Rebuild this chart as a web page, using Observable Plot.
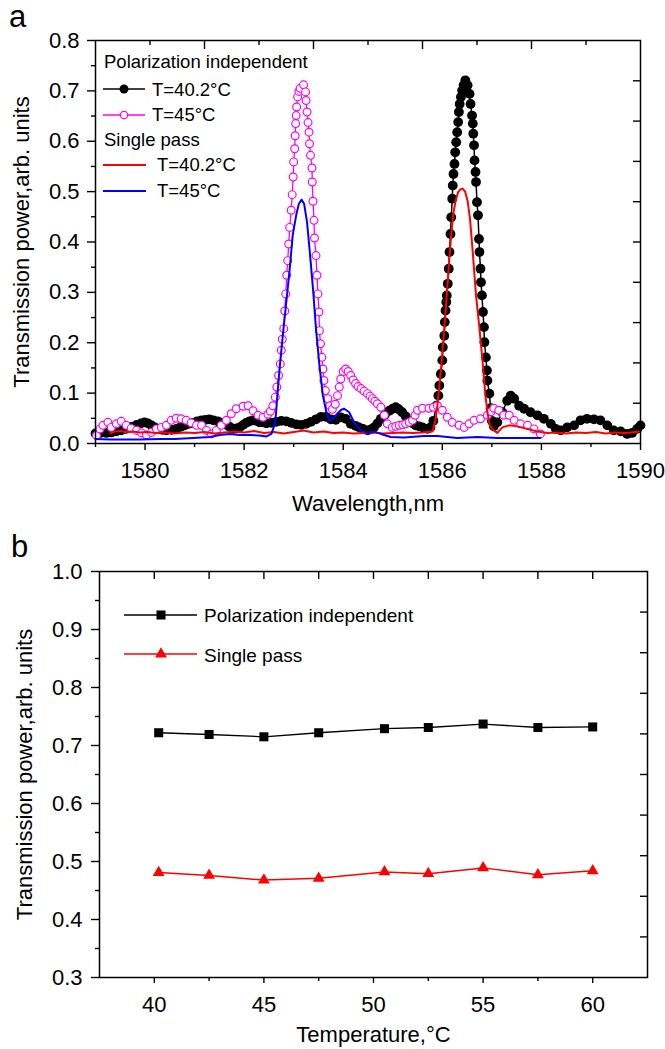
<!DOCTYPE html>
<html><head><meta charset="utf-8">
<script src="https://cdn.jsdelivr.net/npm/d3@7"></script>
<script src="https://cdn.jsdelivr.net/npm/@observablehq/plot@0.6"></script>
<style>
body{margin:0;background:#fff;}
#wrap{position:relative;width:665px;height:1049px;overflow:hidden;}
.panel{position:absolute;left:0;}
#overlay{position:absolute;left:0;top:0;pointer-events:none;}
</style></head><body><div id="wrap"><div id="pa" class="panel" style="top:0"></div><div id="pb" class="panel" style="top:530px"></div></div>
<script>
// ---------- Panel a data : [wavelength nm, power] ----------
const piT402 = [[1579.00,0.020],[1579.10,0.021],[1579.22,0.021],[1579.32,0.022],[1579.42,0.024],[1579.52,0.026],[1579.62,0.029],[1579.72,0.033],[1579.83,0.037],[1579.92,0.040],[1579.99,0.042],[1580.06,0.040],[1580.13,0.036],[1580.20,0.032],[1580.26,0.029],[1580.35,0.027],[1580.43,0.026],[1580.53,0.027],[1580.63,0.029],[1580.72,0.033],[1580.80,0.036],[1580.88,0.039],[1580.97,0.041],[1581.05,0.044],[1581.14,0.046],[1581.22,0.047],[1581.30,0.048],[1581.38,0.046],[1581.47,0.044],[1581.55,0.041],[1581.64,0.037],[1581.71,0.033],[1581.78,0.029],[1581.85,0.030],[1581.91,0.032],[1581.98,0.037],[1582.04,0.041],[1582.11,0.044],[1582.18,0.046],[1582.25,0.045],[1582.31,0.042],[1582.38,0.042],[1582.45,0.040],[1582.55,0.041],[1582.65,0.043],[1582.75,0.045],[1582.85,0.044],[1582.95,0.041],[1583.05,0.038],[1583.15,0.037],[1583.25,0.039],[1583.35,0.043],[1583.45,0.048],[1583.55,0.053],[1583.65,0.053],[1583.75,0.048],[1583.85,0.047],[1583.95,0.052],[1584.05,0.049],[1584.15,0.039],[1584.25,0.035],[1584.32,0.032],[1584.40,0.029],[1584.49,0.026],[1584.56,0.028],[1584.62,0.032],[1584.69,0.040],[1584.76,0.049],[1584.84,0.057],[1584.93,0.065],[1585.00,0.069],[1585.06,0.072],[1585.12,0.068],[1585.19,0.062],[1585.26,0.054],[1585.33,0.046],[1585.40,0.040],[1585.46,0.036],[1585.53,0.034],[1585.60,0.032],[1585.70,0.029],[1585.76,0.032],[1585.82,0.045],[1585.88,0.075],[1585.92,0.095],[1585.94,0.115],[1585.97,0.138],[1586.00,0.165],[1586.01,0.191],[1586.04,0.214],[1586.05,0.241],[1586.065,0.264],[1586.08,0.281],[1586.09,0.294],[1586.11,0.317],[1586.13,0.347],[1586.145,0.380],[1586.165,0.416],[1586.18,0.449],[1586.20,0.486],[1586.21,0.512],[1586.225,0.535],[1586.245,0.555],[1586.26,0.578],[1586.28,0.598],[1586.30,0.618],[1586.32,0.638],[1586.335,0.658],[1586.35,0.674],[1586.375,0.688],[1586.40,0.701],[1586.43,0.711],[1586.465,0.721],[1586.51,0.711],[1586.55,0.694],[1586.57,0.674],[1586.60,0.651],[1586.615,0.635],[1586.625,0.615],[1586.64,0.592],[1586.65,0.562],[1586.67,0.539],[1586.68,0.519],[1586.70,0.479],[1586.72,0.453],[1586.74,0.406],[1586.75,0.380],[1586.77,0.347],[1586.78,0.320],[1586.80,0.294],[1586.82,0.261],[1586.84,0.231],[1586.85,0.201],[1586.88,0.171],[1586.90,0.145],[1586.91,0.125],[1586.95,0.099],[1586.975,0.070],[1587.00,0.045],[1587.04,0.034],[1587.11,0.042],[1587.21,0.062],[1587.31,0.085],[1587.38,0.095],[1587.45,0.089],[1587.55,0.075],[1587.65,0.069],[1587.78,0.062],[1587.92,0.056],[1588.05,0.049],[1588.19,0.039],[1588.29,0.029],[1588.39,0.026],[1588.52,0.032],[1588.66,0.036],[1588.79,0.046],[1588.92,0.049],[1589.06,0.048],[1589.19,0.046],[1589.33,0.036],[1589.46,0.026],[1589.60,0.024],[1589.73,0.019],[1589.83,0.021],[1589.93,0.029],[1590.00,0.036]];

const piT45 = [[1579.02,0.016],[1579.09,0.029],[1579.15,0.036],[1579.25,0.042],[1579.32,0.032],[1579.42,0.039],[1579.52,0.044],[1579.62,0.036],[1579.72,0.030],[1579.83,0.026],[1579.93,0.021],[1580.03,0.017],[1580.13,0.022],[1580.23,0.029],[1580.33,0.032],[1580.43,0.036],[1580.53,0.046],[1580.63,0.050],[1580.73,0.049],[1580.83,0.046],[1580.93,0.041],[1581.04,0.036],[1581.14,0.036],[1581.24,0.026],[1581.34,0.019],[1581.44,0.026],[1581.54,0.036],[1581.64,0.046],[1581.74,0.059],[1581.84,0.069],[1581.98,0.074],[1582.08,0.075],[1582.18,0.065],[1582.28,0.056],[1582.38,0.052],[1582.48,0.058],[1582.53,0.064],[1582.58,0.075],[1582.63,0.092],[1582.66,0.112],[1582.695,0.135],[1582.73,0.158],[1582.75,0.185],[1582.77,0.207],[1582.80,0.228],[1582.82,0.263],[1582.84,0.297],[1582.86,0.334],[1582.88,0.363],[1582.90,0.396],[1582.92,0.429],[1582.95,0.463],[1582.97,0.494],[1582.99,0.529],[1583.00,0.559],[1583.02,0.585],[1583.03,0.611],[1583.04,0.635],[1583.05,0.651],[1583.06,0.668],[1583.08,0.688],[1583.105,0.699],[1583.13,0.705],[1583.20,0.712],[1583.24,0.698],[1583.25,0.681],[1583.27,0.658],[1583.29,0.637],[1583.31,0.618],[1583.32,0.595],[1583.34,0.572],[1583.37,0.547],[1583.375,0.519],[1583.39,0.481],[1583.41,0.443],[1583.42,0.408],[1583.45,0.373],[1583.47,0.334],[1583.49,0.297],[1583.51,0.261],[1583.52,0.224],[1583.54,0.198],[1583.57,0.171],[1583.59,0.148],[1583.61,0.125],[1583.64,0.105],[1583.69,0.089],[1583.73,0.075],[1583.78,0.068],[1583.84,0.078],[1583.885,0.095],[1583.92,0.112],[1583.95,0.128],[1584.00,0.143],[1584.05,0.148],[1584.10,0.143],[1584.15,0.135],[1584.20,0.126],[1584.25,0.119],[1584.30,0.113],[1584.36,0.109],[1584.42,0.104],[1584.49,0.099],[1584.54,0.094],[1584.59,0.089],[1584.64,0.084],[1584.69,0.079],[1584.76,0.072],[1584.83,0.056],[1584.89,0.039],[1584.99,0.032],[1585.06,0.034],[1585.13,0.036],[1585.20,0.037],[1585.26,0.039],[1585.33,0.042],[1585.40,0.046],[1585.45,0.056],[1585.50,0.066],[1585.60,0.070],[1585.73,0.070],[1585.82,0.072],[1585.90,0.075],[1586.00,0.066],[1586.10,0.052],[1586.20,0.042],[1586.34,0.036],[1586.44,0.032],[1586.54,0.039],[1586.64,0.046],[1586.77,0.049],[1586.91,0.056],[1586.98,0.063],[1587.04,0.070],[1587.14,0.066],[1587.24,0.056],[1587.35,0.056],[1587.45,0.046],[1587.58,0.039],[1587.72,0.036],[1587.85,0.029],[1587.98,0.019]];

const spT402 = [[1579.30,0.020],[1579.40,0.024],[1579.50,0.025],[1579.60,0.023],[1579.75,0.024],[1579.90,0.022],[1580.05,0.023],[1580.20,0.021],[1580.40,0.022],[1580.60,0.020],[1580.80,0.022],[1581.00,0.021],[1581.20,0.023],[1581.40,0.020],[1581.60,0.022],[1581.80,0.024],[1582.00,0.022],[1582.20,0.025],[1582.40,0.021],[1582.60,0.023],[1582.80,0.020],[1583.00,0.023],[1583.20,0.026],[1583.40,0.022],[1583.60,0.024],[1583.80,0.021],[1584.00,0.022],[1584.20,0.020],[1584.40,0.021],[1584.60,0.022],[1584.80,0.020],[1585.00,0.021],[1585.20,0.022],[1585.40,0.021],[1585.60,0.022],[1585.80,0.024],[1585.86,0.045],[1585.90,0.075],[1585.94,0.115],[1585.98,0.155],[1586.02,0.205],[1586.06,0.255],[1586.10,0.310],[1586.14,0.365],[1586.18,0.415],[1586.22,0.455],[1586.27,0.483],[1586.32,0.499],[1586.37,0.505],[1586.41,0.506],[1586.46,0.500],[1586.51,0.482],[1586.56,0.445],[1586.61,0.385],[1586.68,0.294],[1586.75,0.228],[1586.82,0.155],[1586.87,0.095],[1586.92,0.056],[1586.96,0.035],[1587.04,0.026],[1587.11,0.021],[1587.21,0.032],[1587.35,0.036],[1587.51,0.034],[1587.71,0.029],[1587.92,0.024],[1588.12,0.021],[1588.30,0.022],[1588.50,0.020],[1588.70,0.022],[1588.90,0.021],[1589.10,0.023],[1589.30,0.020],[1589.50,0.022],[1589.70,0.021],[1589.90,0.023],[1590.00,0.024]];

const spT45 = [[1579.00,0.009],[1579.30,0.008],[1579.60,0.008],[1579.90,0.008],[1580.30,0.009],[1580.60,0.009],[1580.97,0.011],[1581.30,0.013],[1581.51,0.017],[1581.71,0.019],[1581.91,0.017],[1582.11,0.017],[1582.31,0.016],[1582.45,0.014],[1582.55,0.019],[1582.61,0.036],[1582.64,0.056],[1582.67,0.095],[1582.715,0.148],[1582.78,0.214],[1582.85,0.280],[1582.92,0.347],[1582.98,0.413],[1583.05,0.453],[1583.105,0.476],[1583.16,0.484],[1583.21,0.476],[1583.27,0.439],[1583.32,0.386],[1583.39,0.307],[1583.45,0.228],[1583.52,0.155],[1583.59,0.095],[1583.66,0.062],[1583.72,0.045],[1583.80,0.050],[1583.88,0.059],[1583.96,0.067],[1584.02,0.069],[1584.12,0.062],[1584.22,0.042],[1584.35,0.026],[1584.49,0.021],[1584.62,0.024],[1584.76,0.019],[1584.96,0.013],[1585.23,0.012],[1585.63,0.015],[1585.90,0.015],[1586.30,0.011],[1586.71,0.013],[1587.11,0.011],[1587.51,0.011],[1587.98,0.011]];

// ---------- Panel b data ----------
const temps = [40.2, 42.5, 45, 47.5, 50.5, 52.5, 55, 57.5, 60];
const piPower = [0.722, 0.719, 0.715, 0.722, 0.729, 0.731, 0.737, 0.731, 0.732];
const spPower = [0.481, 0.476, 0.468, 0.471, 0.482, 0.479, 0.489, 0.477, 0.484];

// ---------- Ticks & texts ----------
const xTicksA = [1580, 1582, 1584, 1586, 1588, 1590];
const xMinorA = [1579, 1581, 1583, 1585, 1587, 1589];
const yTicksA = [0, 0.1, 0.2, 0.3, 0.4, 0.5, 0.6, 0.7, 0.8];
const yMinorA = [0.05, 0.15, 0.25, 0.35, 0.45, 0.55, 0.65, 0.75];
const topLongA = [1581.2, 1583.4, 1585.6, 1587.8];
const topShortA = [1580.1, 1582.3, 1584.5, 1586.7, 1588.9];
const rightA = [0.08, 0.16, 0.24, 0.32, 0.40, 0.48, 0.56, 0.64, 0.72];

const xTicksB = [40, 45, 50, 55, 60];
const xMinorB = [42.5, 47.5, 52.5, 57.5];
const yTicksB = [0.3, 0.4, 0.5, 0.6, 0.7, 0.8, 0.9, 1.0];
const yMinorB = [0.35, 0.45, 0.55, 0.65, 0.75, 0.85, 0.95];
const topB = [40, 42.5, 45, 47.5, 50, 52.5, 55, 57.5, 60];
const rightB = [0.37, 0.44, 0.51, 0.58, 0.65, 0.72, 0.79, 0.86, 0.93];

const xTitleA = "Wavelength,nm";
const xTitleB = "Temperature,°C";
const yTitle = "Transmission power,arb. units";
const legendA = ["Polarization independent", "T=40.2°C", "T=45°C", "Single pass", "T=40.2°C", "T=45°C"];
const legendB = ["Polarization independent", "Single pass"];

const FONT = '"Liberation Sans", Arial, Helvetica, sans-serif';
const MAG = "#ff00ff", RED = "#ff0000", BLUE = "#0000ff";
const fx = d => d[0], fy = d => d[1];

const chartA = Plot.plot({
  width: 665, height: 530,
  marginLeft: 95, marginRight: 25, marginTop: 40, marginBottom: 87,
  style: {fontFamily: FONT, fontSize: "22px", color: "#000", background: "white"},
  x: {domain: [1579, 1590]},
  y: {domain: [0, 0.8]},
  marks: [
    Plot.line(piT402, {x: fx, y: fy, stroke: "black", strokeWidth: 1.5}),
    Plot.dot(piT402, {x: fx, y: fy, r: 4.9, fill: "black"}),
    Plot.line(piT45, {x: fx, y: fy, stroke: MAG, strokeWidth: 1.3}),
    Plot.dot(piT45, {x: fx, y: fy, r: 3.9, fill: "white", stroke: MAG, strokeWidth: 1.2}),
    Plot.line(spT402, {x: fx, y: fy, stroke: RED, strokeWidth: 2}),
    Plot.line(spT45, {x: fx, y: fy, stroke: BLUE, strokeWidth: 2}),
    Plot.axisX(xTicksA, {tickSize: 7, tickPadding: 12, strokeWidth: 1.4, tickFormat: d => String(d), label: null}),
    Plot.axisX(xMinorA, {tickSize: 4, strokeWidth: 1.4, fill: "none", label: null}),
    Plot.axisX(topLongA, {anchor: "top", tickSize: 8, dy: 8, strokeWidth: 1.4, fill: "none", label: null}),
    Plot.axisX(topShortA, {anchor: "top", tickSize: 4, dy: 4, strokeWidth: 1.4, fill: "none", label: null}),
    Plot.axisY(yTicksA, {tickSize: 8, tickPadding: 8, strokeWidth: 1.4, tickFormat: d3.format(".1f"), label: null}),
    Plot.axisY(yMinorA, {tickSize: 4, strokeWidth: 1.4, fill: "none", label: null}),
    Plot.axisY(rightA, {anchor: "right", tickSize: 8, dx: -8, strokeWidth: 1.4, fill: "none", label: null}),
    Plot.frame({stroke: "black", strokeWidth: 1.5}),
    Plot.text([xTitleA], {text: d => d, frameAnchor: "bottom", dy: 67, lineAnchor: "bottom", textAnchor: "middle", fontSize: 22}),
    Plot.text([yTitle], {text: d => d, frameAnchor: "left", dx: -67, rotate: -90, lineAnchor: "bottom", textAnchor: "middle", fontSize: 22})
  ]
});
document.getElementById("pa").appendChild(chartA);

const rowsB = temps.map((t, i) => ({t, pi: piPower[i], sp: spPower[i]}));
const chartB = Plot.plot({
  width: 665, height: 519,
  marginLeft: 99, marginRight: 18, marginTop: 41, marginBottom: 72,
  style: {fontFamily: FONT, fontSize: "22px", color: "#000", background: "white"},
  x: {domain: [37.5, 62.5]},
  y: {domain: [0.3, 1.0]},
  marks: [
    Plot.line(rowsB, {x: "t", y: "pi", stroke: "black", strokeWidth: 1.3}),
    Plot.dot(rowsB, {x: "t", y: "pi", symbol: "square", r: 5.1, fill: "black"}),
    Plot.line(rowsB, {x: "t", y: "sp", stroke: RED, strokeWidth: 1.5}),
    Plot.dot(rowsB, {x: "t", y: "sp", symbol: "triangle", r: 4.4, fill: RED}),
    Plot.axisX(xTicksB, {tickSize: 6, tickPadding: 13, strokeWidth: 1.4, tickFormat: d => String(d), label: null}),
    Plot.axisX(xMinorB, {tickSize: 4, strokeWidth: 1.4, fill: "none", label: null}),
    Plot.axisX(topB, {anchor: "top", tickSize: 7, dy: 7, strokeWidth: 1.4, fill: "none", label: null}),
    Plot.axisY(yTicksB, {tickSize: 8, tickPadding: 9, strokeWidth: 1.4, tickFormat: d3.format(".1f"), label: null}),
    Plot.axisY(yMinorB, {tickSize: 4, strokeWidth: 1.4, fill: "none", label: null}),
    Plot.axisY(rightB, {anchor: "right", tickSize: 8, dx: -8, strokeWidth: 1.4, fill: "none", label: null}),
    Plot.frame({stroke: "black", strokeWidth: 1.5}),
    Plot.text([xTitleB], {text: d => d, frameAnchor: "bottom", dy: 64, lineAnchor: "bottom", textAnchor: "middle", fontSize: 22}),
    Plot.text([yTitle], {text: d => d, frameAnchor: "left", dx: -68, rotate: -90, lineAnchor: "bottom", textAnchor: "middle", fontSize: 22})
  ]
});
document.getElementById("pb").appendChild(chartB);

// ---------- Legends & panel letters (overlay) ----------
const svg = d3.select("#wrap").append("svg").attr("id", "overlay")
  .attr("width", 665).attr("height", 1049)
  .style("font-family", FONT);
const txt = (x, y, s, size) => svg.append("text").attr("x", x).attr("y", y).attr("font-size", size).attr("fill", "#000").text(s);
const seg = (x1, x2, y, c, w) => svg.append("line").attr("x1", x1).attr("x2", x2).attr("y1", y).attr("y2", y).attr("stroke", c).attr("stroke-width", w);

txt(9, 27, "a", 31);
txt(11, 557, "b", 31);

// legend a
txt(104, 68, legendA[0], 18.5);
seg(103, 145, 89, "black", 1.5);
svg.append("circle").attr("cx", 124).attr("cy", 89).attr("r", 4.5).attr("fill", "black");
txt(152, 95.5, legendA[1], 18.5);
seg(103, 145, 115, MAG, 1.3);
svg.append("circle").attr("cx", 124).attr("cy", 115).attr("r", 3.7).attr("fill", "white").attr("stroke", MAG).attr("stroke-width", 1.2);
txt(152, 121, legendA[2], 18.5);
txt(104, 146, legendA[3], 18.5);
seg(103, 146, 165, RED, 2);
txt(157, 171, legendA[4], 18.5);
seg(103, 146, 191, BLUE, 2);
txt(157, 197, legendA[5], 18.5);

// legend b
seg(124, 197, 615, "black", 1.3);
svg.append("path").attr("d", d3.symbol(d3.symbolSquare, 5.1 * 5.1 * Math.PI)()).attr("transform", "translate(161,615)").attr("fill", "black");
txt(204, 622, legendB[0], 19);
seg(124, 197, 654, RED, 1.5);
svg.append("path").attr("d", d3.symbol(d3.symbolTriangle, 4.4 * 4.4 * Math.PI)()).attr("transform", "translate(161,654)").attr("fill", RED);
txt(204, 662, legendB[1], 19);
</script>
</body></html>
